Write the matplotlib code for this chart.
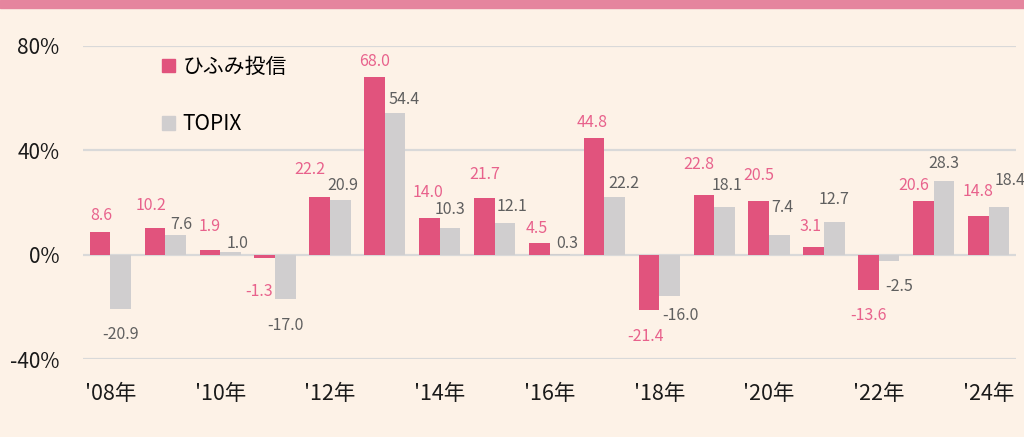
import matplotlib
matplotlib.use("Agg")
import matplotlib.pyplot as plt
from matplotlib.patches import Patch, Rectangle
import numpy as np

plt.rcParams['font.family'] = ['Noto Sans CJK JP', 'DejaVu Sans']

years = list(range(2008, 2025))
hifumi = [8.6, 10.2, 1.9, -1.3, 22.2, 68.0, 14.0, 21.7, 4.5, 44.8,
          -21.4, 22.8, 20.5, 3.1, -13.6, 20.6, 14.8]
topix = [-20.9, 7.6, 1.0, -17.0, 20.9, 54.4, 10.3, 12.1, 0.3, 22.2,
         -16.0, 18.1, 7.4, 12.7, -2.5, 28.3, 18.4]
tick_years = years[::2]
tick_labels = ["'%02d年" % (y % 100) for y in tick_years]

# label offsets in pixels from the bar end (hand placed like the original)
hifumi_off = [(1, 17), (-4, 23), (0, 23), (-6, -33), (-10, 27), (0, 16),
              (-1, 26), (0, 24), (-2, 14), (-2, 15), (-3, -26), (-5, 31),
              (0, 26), (-3, 20), (0, -25), (-10, 15), (0, 25)]
topix_off = [(0, -25), (6, 10), (7, 9), (0, -26), (3, 15), (9, 13),
             (0, 18), (7, 17), (7, 10), (9, 13), (11, -19), (3, 22),
             (3, 28), (0, 22), (10, -25), (0, 17), (11, 26)]

PINK = '#e1537d'
GREY = '#d0cecf'
BG = '#fdf2e7'

fig = plt.figure(figsize=(10.24, 4.37), dpi=100, facecolor=BG)
ax = fig.add_axes([83 / 1024, 1 - 359 / 437, 933 / 1024, 313 / 437])
ax.set_facecolor(BG)

# pink band at the top
fig.patches.append(Rectangle((0, 1 - 8 / 437), 1, 8 / 437, transform=fig.transFigure,
                             color='#e5859e', zorder=0))

x = np.arange(len(years))
w = 0.376
ax.bar(x - w / 2, hifumi, w, color=PINK, zorder=3)
ax.bar(x + w / 2, topix, w, color=GREY, zorder=3)

for i in range(len(years)):
    for vals, offs, dx_bar, col in ((hifumi, hifumi_off, -w / 2, '#e8628c'),
                                    (topix, topix_off, w / 2, '#5f5f5f')):
        v = vals[i]
        ax.annotate('%.1f' % v, (x[i] + dx_bar, v), xytext=offs[i],
                    textcoords='offset pixels', ha='center', va='center',
                    fontsize=11.5, color=col, zorder=4)

ax.set_xlim(-0.5, 16.5)
ax.set_ylim(-40, 80)
ax.set_yticks([-40, 0, 40, 80])
ax.set_yticklabels(['%d%%' % t for t in [-40, 0, 40, 80]])
ax.set_xticks([years.index(y) for y in tick_years])
ax.set_xticklabels(tick_labels)
ax.tick_params(axis='both', length=0, labelsize=15, colors='#1a1a1a')
ax.tick_params(axis='x', labelsize=15.5)
ax.tick_params(axis='y', pad=17)
ax.tick_params(axis='x', pad=17)
ax.grid(axis='y', color='#d9d9d9', linewidth=1.6, zorder=1)
ax.set_axisbelow(True)
for s in ax.spines.values():
    s.set_visible(False)

handles = [Patch(color=PINK, label='ひふみ投信'), Patch(color=GREY, label='TOPIX')]
ax.legend(handles=handles, loc='upper left', bbox_to_anchor=(162 / 1024, 1 - 56 / 437),
          bbox_transform=fig.transFigure, frameon=False, fontsize=15,
          handlelength=0.62, handleheight=0.62, handletextpad=0.35,
          labelspacing=1.7, borderpad=0, borderaxespad=0)

fig.savefig('out.png', dpi=100, facecolor=BG)
